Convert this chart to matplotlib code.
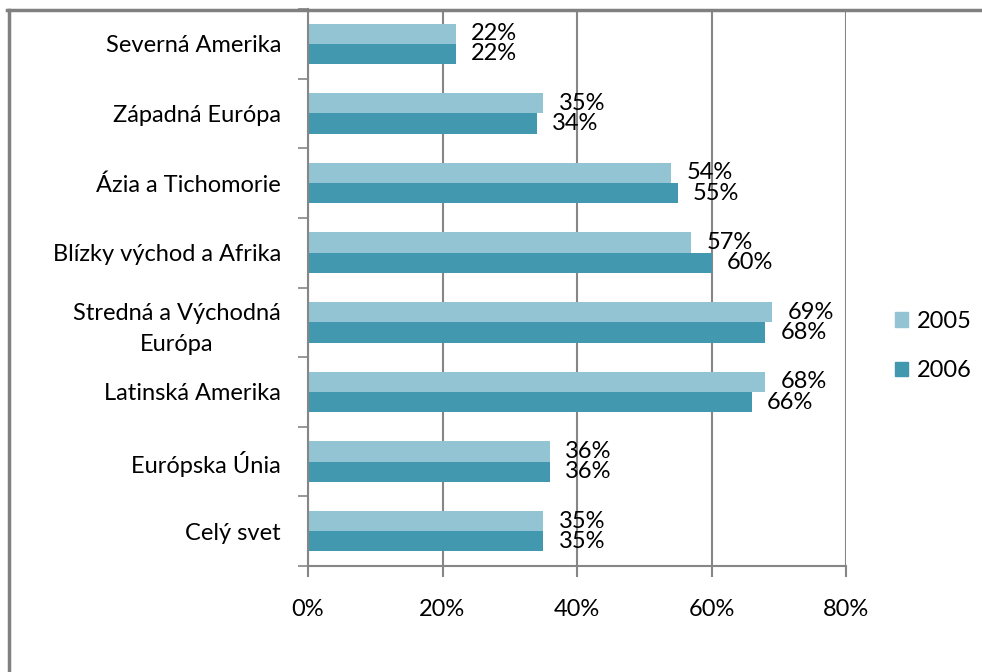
import matplotlib
matplotlib.use("Agg")
import matplotlib.pyplot as plt
import numpy as np
from matplotlib.lines import Line2D
from matplotlib.patches import Patch

plt.rcParams['font.family'] = ['Lato', 'DejaVu Sans']

categories = ["Severná Amerika", "Západná Európa", "Ázia a Tichomorie",
              "Blízky východ a Afrika", "Stredná a Východná\nEurópa",
              "Latinská Amerika", "Európska Únia", "Celý svet"]
v2005 = [22, 35, 54, 57, 69, 68, 36, 35]
v2006 = [22, 34, 55, 60, 68, 66, 36, 35]
series_names = ["2005", "2006"]
x_ticks = [0, 20, 40, 60, 80]
x_ticklabels = ["0%", "20%", "40%", "60%", "80%"]

c2005 = "#93C4D4"
c2006 = "#4298AF"
gray = "#868686"
fs = 17

fig = plt.figure(figsize=(9.82, 6.72), dpi=100)
ax = fig.add_axes([308/982, 1 - 566/672, (846-308)/982, (566-9)/672])

n = len(categories)
pos = np.arange(n)  # top = 0
h = 0.29
b1 = ax.barh(pos - h/2, v2005, height=h, color=c2005, label=series_names[0])
b2 = ax.barh(pos + h/2, v2006, height=h, color=c2006, label=series_names[1])

for bars, vals in ((b1, v2005), (b2, v2006)):
    for r, v in zip(bars, vals):
        ax.annotate(f"{v}%", (r.get_width(), r.get_y() + r.get_height()/2),
                    xytext=(11, 0), textcoords="offset points",
                    ha="left", va="center", fontsize=fs, color="black")

ax.set_xlim(0, 80)
ax.set_ylim(n - 0.5, -0.5)
ax.set_xticks(x_ticks)
ax.set_xticklabels(x_ticklabels, fontsize=fs)
ax.set_yticks(pos)
ax.set_yticklabels(categories, fontsize=fs)
for t in ax.get_yticklabels():
    t.set_multialignment("center")
    t.set_linespacing(1.55)
ax.set_yticks(np.arange(n + 1) - 0.5, minor=True)
ax.tick_params(axis="y", which="major", length=0, pad=19.5)
ax.tick_params(axis="y", which="minor", length=7, width=1.2, color=gray, direction="out")
ax.tick_params(axis="x", which="major", length=8, width=1.5, color=gray, direction="out", pad=16)

ax.grid(axis="x", color=gray, linewidth=1.5)
ax.set_axisbelow(True)
for s in ("top", "right"):
    ax.spines[s].set_visible(False)
for s in ("left", "bottom"):
    ax.spines[s].set_color(gray)
    ax.spines[s].set_linewidth(1.5)

handles = [Patch(color=c2005), Patch(color=c2006)]
fig.legend(handles, series_names, loc="center left", bbox_to_anchor=(874/982, 1 - 346/672),
           frameon=False, fontsize=fs, handlelength=0.55, handleheight=0.55,
           handletextpad=0.35, labelspacing=1.2)

# outer frame (top and left visible)
fig.add_artist(Line2D([8.5/982, 8.5/982], [0, 1 - 10/672], transform=fig.transFigure,
                      color="#808080", linewidth=2.5))
fig.add_artist(Line2D([7/982, 1], [1 - 10/672, 1 - 10/672], transform=fig.transFigure,
                      color="#808080", linewidth=2.5))

fig.savefig("out.png", dpi=100, facecolor="white")
